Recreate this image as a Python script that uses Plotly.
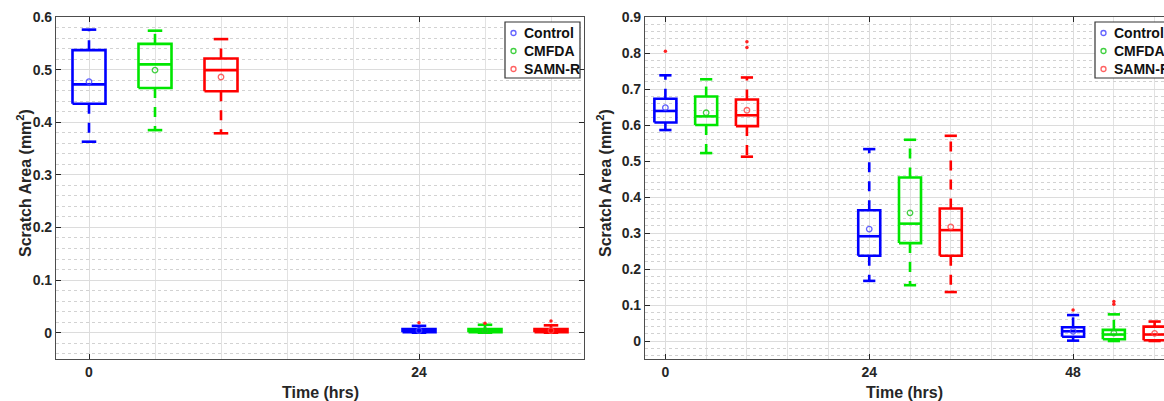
import plotly.graph_objects as go

# ---------------- data ----------------
groups = ["Control", "CMFDA", "SAMN-R"]

# Panel A: time points 0 and 24 hrs
a_times = ["0", "24"]
a_lo   = [[0.363, 0.000], [0.385, 0.000], [0.379, 0.000]]
a_q1   = [[0.435, 0.001], [0.465, 0.001], [0.459, 0.001]]
a_med  = [[0.472, 0.004], [0.510, 0.004], [0.499, 0.004]]
a_q3   = [[0.537, 0.007], [0.549, 0.007], [0.521, 0.007]]
a_hi   = [[0.576, 0.013], [0.574, 0.015], [0.558, 0.014]]
a_mean = [[0.477, 0.004], [0.499, 0.004], [0.486, 0.004]]
a_out  = [[[], [0.019]], [[], [0.018]], [[], [0.022]]]

# Panel B: time points 0, 24 and 48 hrs
b_times = ["0", "24", "48"]
b_lo   = [[0.586, 0.167, 0.001], [0.522, 0.155, 0.000], [0.512, 0.136, 0.000]]
b_q1   = [[0.607, 0.237, 0.012], [0.600, 0.272, 0.005], [0.597, 0.237, 0.002]]
b_med  = [[0.639, 0.291, 0.027], [0.624, 0.326, 0.018], [0.627, 0.308, 0.018]]
b_q3   = [[0.673, 0.363, 0.038], [0.679, 0.454, 0.031], [0.671, 0.368, 0.040]]
b_hi   = [[0.738, 0.533, 0.072], [0.727, 0.559, 0.074], [0.732, 0.570, 0.054]]
b_mean = [[0.648, 0.311, 0.027], [0.634, 0.356, 0.022], [0.641, 0.317, 0.021]]
b_out  = [[[0.805], [], [0.086]], [[], [], [0.102, 0.110]], [[0.815, 0.831], [], []]]

# ---------------- styling ----------------
colors = ["#0000ff", "#00e600", "#ff0000"]
mean_colors = ["rgba(70,70,255,0.85)", "rgba(30,200,30,0.85)", "rgba(255,70,70,0.85)"]
FONT = "Liberation Sans, Arial, sans-serif"
TXT = "#262626"
W, H = 1164, 401
ML, MR, MT, MB = 56, 0, 17, 42
PW, PH = W - ML - MR, H - MT - MB
LW = 2.6
GROUP_STEP = 5  # slot spacing between time points


def px(xp):
    return (xp - ML) / PW


def py(yp):
    return 1 - (yp - MT) / PH


fig = go.Figure()


def add_boxes(lo, q1, med, q3, hi, mean, out, xa, ya, half, cap):
    for g, name in enumerate(groups):
        bx, by, wx, wy, cx, cy, ox, oy, mx, my = [], [], [], [], [], [], [], [], [], []
        for t in range(len(lo[g])):
            p = 1 + GROUP_STEP * t + g
            # box outline and median
            bx += [p - half, p + half, p + half, p - half, p - half, None,
                   p - half, p + half, None]
            by += [q1[g][t], q1[g][t], q3[g][t], q3[g][t], q1[g][t], None,
                   med[g][t], med[g][t], None]
            # dashed whiskers
            wx += [p, p, None, p, p, None]
            wy += [q3[g][t], hi[g][t], None, q1[g][t], lo[g][t], None]
            # caps
            cx += [p - cap, p + cap, None, p - cap, p + cap, None]
            cy += [hi[g][t], hi[g][t], None, lo[g][t], lo[g][t], None]
            mx.append(p)
            my.append(mean[g][t])
            for v in out[g][t]:
                ox.append(p)
                oy.append(v)
        common = dict(xaxis=xa, yaxis=ya, showlegend=False, hoverinfo="skip")
        fig.add_trace(go.Scatter(x=wx, y=wy, mode="lines",
                                 line=dict(color=colors[g], width=LW, dash="10px,9px"), **common))
        fig.add_trace(go.Scatter(x=bx, y=by, mode="lines",
                                 line=dict(color=colors[g], width=LW), **common))
        fig.add_trace(go.Scatter(x=cx, y=cy, mode="lines",
                                 line=dict(color=colors[g], width=LW), **common))
        fig.add_trace(go.Scatter(x=mx, y=my, mode="markers",
                                 marker=dict(symbol="circle-open", size=5.5,
                                             color=mean_colors[g], line=dict(width=1.3)),
                                 **common))
        if ox:
            fig.add_trace(go.Scatter(x=ox, y=oy, mode="markers",
                                     marker=dict(symbol="circle", size=3.5, color="#ff2020"),
                                     **common))


add_boxes(a_lo, a_q1, a_med, a_q3, a_hi, a_mean, a_out, "x", "y", 0.25, 0.11)
add_boxes(b_lo, b_q1, b_med, b_q3, b_hi, b_mean, b_out, "x2", "y2", 0.27, 0.15)

tickfont = dict(family=FONT, size=14, color=TXT, weight="bold")
grid_major = "#dcdcdc"
grid_minor = "#d2d2d2"


def xaxis_cfg(domain, rng, labels):
    return dict(domain=domain, range=rng,
                tickvals=[1 + GROUP_STEP * i for i in range(len(labels))], ticktext=labels,
                ticks="inside", ticklen=5, tickcolor=TXT, tickfont=tickfont,
                showline=True, linecolor="#4d4d4d", linewidth=1.2, mirror="ticks",
                showgrid=True, gridcolor=grid_major, gridwidth=1, zeroline=False,
                minor=dict(tick0=1, dtick=1, showgrid=True, gridcolor="#e2e2e2", gridwidth=1),
                fixedrange=True)


def yaxis_cfg(rng, mirror):
    return dict(range=rng, dtick=0.1, tick0=0,
                ticks="inside", ticklen=5, tickcolor=TXT, tickfont=tickfont,
                showline=True, linecolor="#4d4d4d", linewidth=1.2, mirror=mirror,
                showgrid=True, gridcolor=grid_major, gridwidth=1, zeroline=False,
                minor=dict(tick0=0, dtick=0.02, showgrid=True, gridcolor=grid_minor,
                           griddash="dot", gridwidth=1),
                fixedrange=True)


left_end = 584
right_start = 645
right_step = 40.77

fig.update_layout(
    width=W, height=H,
    margin=dict(l=ML, r=MR, t=MT, b=MB, autoexpand=False),
    paper_bgcolor="white", plot_bgcolor="white",
    showlegend=False,
    xaxis=xaxis_cfg([0, px(left_end)], [0.5, 8.5], a_times),
    yaxis=yaxis_cfg([-0.05, 0.6], "ticks"),
    xaxis2=dict(**xaxis_cfg([px(right_start), 1],
                            [0.5, 0.5 + (W - MR - right_start) / right_step], b_times),
                anchor="y2"),
    yaxis2=dict(**yaxis_cfg([-0.05, 0.9], False), anchor="x2"),
)

annotations = []
shapes = []
title_font = dict(family=FONT, size=16, color=TXT, weight="bold")

# axis titles
for xc in [(ML + left_end) / 2, (right_start + W - MR) / 2]:
    annotations.append(dict(text="Time (hrs)", xref="paper", yref="paper",
                            x=px(xc), y=py(392), xanchor="center", yanchor="middle",
                            showarrow=False, font=title_font))
for xc in [24, 604]:
    annotations.append(dict(text="Scratch Area (mm<sup>2</sup>)", xref="paper", yref="paper",
                            x=px(xc), y=py(183), xanchor="center", yanchor="middle",
                            textangle=-90, showarrow=False, font=title_font))

# legend boxes
for lx0, lx1 in [(505, 580), (1095, 1176)]:
    shapes.append(dict(type="rect", xref="paper", yref="paper",
                       x0=px(lx0), x1=px(lx1), y0=py(78), y1=py(22),
                       line=dict(color="#333333", width=1.2), fillcolor="white",
                       layer="above"))
    for g, name in enumerate(groups):
        yc = 33 + 18 * g
        shapes.append(dict(type="circle", xref="paper", yref="paper",
                           xsizemode="pixel", ysizemode="pixel",
                           xanchor=px(lx0 + 8.5), yanchor=py(yc),
                           x0=-2.5, x1=2.5, y0=-2.5, y1=2.5,
                           line=dict(color=mean_colors[g], width=1.3), layer="above"))
        annotations.append(dict(text=name, xref="paper", yref="paper",
                                x=px(lx0 + 17), y=py(yc), xanchor="left", yanchor="middle",
                                showarrow=False,
                                font=dict(family=FONT, size=14, color="#111111", weight="bold")))

fig.update_layout(annotations=annotations, shapes=shapes)

fig.write_html("out.html")
